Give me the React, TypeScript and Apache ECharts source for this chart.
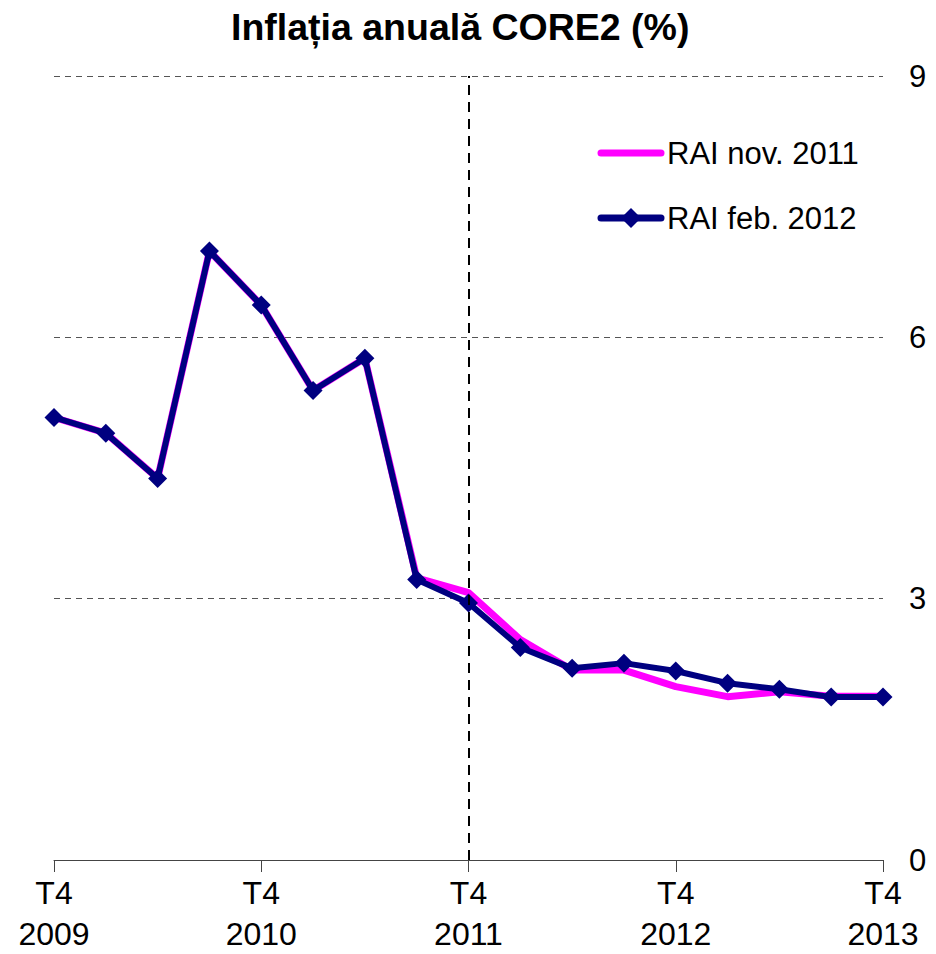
import React, { useEffect, useRef } from "react";
import * as echarts from "echarts";

const categories = [
  "T4\n2009", "T1\n2010", "T2\n2010", "T3\n2010",
  "T4\n2010", "T1\n2011", "T2\n2011", "T3\n2011",
  "T4\n2011", "T1\n2012", "T2\n2012", "T3\n2012",
  "T4\n2012", "T1\n2013", "T2\n2013", "T3\n2013",
  "T4\n2013",
];

const seriesNames = ["RAI nov. 2011", "RAI feb. 2012"];
const raiNov2011 = [5.08, 4.9, 4.38, 6.99, 6.37, 5.39, 5.76, 3.24, 3.07, 2.53, 2.18, 2.18, 1.99, 1.875, 1.93, 1.88, 1.88];
const raiFeb2012 = [5.08, 4.9, 4.38, 6.99, 6.37, 5.39, 5.76, 3.22, 2.95, 2.44, 2.2, 2.26, 2.17, 2.03, 1.96, 1.87, 1.87];

const yTicks = [0, 3, 6, 9];
const FONT = "'Liberation Sans', Arial, sans-serif";
const MAGENTA = "#ff00ff";
const NAVY = "#000080";

export default function App() {
  const ref = useRef<HTMLDivElement>(null);
  useEffect(() => {
    if (!ref.current) return;
    const chart = echarts.init(ref.current, undefined, { renderer: "svg" });
    chart.setOption({
      animation: false,
      backgroundColor: "#ffffff",
      title: {
        text: "Inflația anuală CORE2 (%)",
        left: 226,
        top: 3,
        textStyle: { fontFamily: FONT, fontSize: 37.5, fontWeight: "bold", color: "#000" },
      },
      graphic: [
        {
          type: "line",
          shape: { x1: 601, y1: 153, x2: 661, y2: 153 },
          style: { stroke: MAGENTA, lineWidth: 7, lineCap: "round" },
        },
        {
          type: "text",
          x: 667,
          y: 153,
          style: { text: seriesNames[0], fontFamily: FONT, fontSize: 31, fill: "#000", verticalAlign: "middle", align: "left" },
        },
        {
          type: "line",
          shape: { x1: 601, y1: 218, x2: 661, y2: 218 },
          style: { stroke: NAVY, lineWidth: 7, lineCap: "round" },
        },
        {
          type: "polygon",
          shape: { points: [[631, 208], [641, 218], [631, 228], [621, 218]] },
          style: { fill: NAVY },
        },
        {
          type: "text",
          x: 667,
          y: 218,
          style: { text: seriesNames[1], fontFamily: FONT, fontSize: 31, fill: "#000", verticalAlign: "middle", align: "left" },
        },
      ],
      grid: { left: 54, right: 53, top: 76, bottom: 94, containLabel: false, outerBoundsMode: "none" },
      xAxis: {
        type: "category",
        data: categories,
        boundaryGap: false,
        axisLine: { lineStyle: { color: "#444", width: 1 } },
        axisTick: { interval: 3, length: 12, lineStyle: { color: "#444" } },
        axisLabel: {
          interval: 3,
          fontFamily: FONT,
          fontSize: 32,
          color: "#000",
          lineHeight: 41,
          margin: 12,
        },
        splitLine: { show: false },
      },
      yAxis: {
        type: "value",
        position: "right",
        min: yTicks[0],
        max: yTicks[yTicks.length - 1],
        interval: 3,
        axisLine: { show: false },
        axisTick: { show: false },
        axisLabel: { fontFamily: FONT, fontSize: 31, color: "#000", margin: 26 },
        splitLine: { lineStyle: { color: "#555", type: [6, 5], width: 1 } },
      },
      series: [
        {
          name: seriesNames[0],
          type: "line",
          data: raiNov2011,
          symbol: "none",
          lineStyle: { color: MAGENTA, width: 7 },
          itemStyle: { color: MAGENTA },
          z: 2,
        },
        {
          name: seriesNames[1],
          type: "line",
          data: raiFeb2012,
          symbol: "diamond",
          symbolSize: 19,
          lineStyle: { color: NAVY, width: 6 },
          itemStyle: { color: NAVY },
          z: 3,
          markLine: {
            silent: true,
            symbol: "none",
            label: { show: false },
            lineStyle: { color: "#000", type: [10, 7], width: 2 },
            data: [{ xAxis: categories[8] }],
          },
        },
      ],
    });
    return () => chart.dispose();
  }, []);
  return <div ref={ref} style={{ width: 936, height: 954, margin: -8 }} />;
}
